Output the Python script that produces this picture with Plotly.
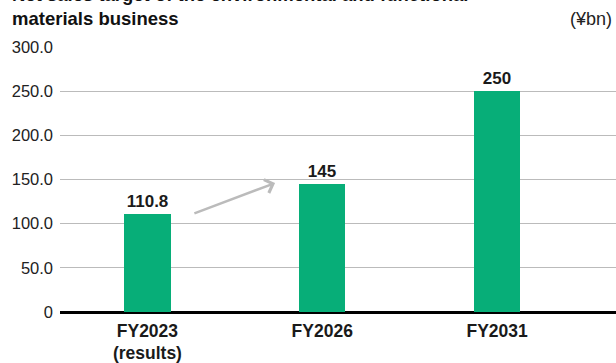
import plotly.graph_objects as go

categories = ["FY2023<br>(results)", "FY2026", "FY2031"]
values = [110.8, 145, 250]
value_labels = ["110.8", "145", "250"]
y_ticks = [0, 50, 100, 150, 200, 250, 300]
y_tick_labels = ["0", "50.0", "100.0", "150.0", "200.0", "250.0", "300.0"]

FONT = "Liberation Sans, Arial, sans-serif"
GREEN = "#07AE78"

fig = go.Figure()
fig.add_trace(go.Bar(
    x=categories, y=values, width=0.265,
    marker=dict(color=GREEN, line=dict(width=0)),
    text=value_labels, textposition="outside",
    textfont=dict(family=FONT, size=17, color="#1a1a1a", weight="bold"),
    cliponaxis=False,
))

fig.add_annotation(
    x=0.73, y=146, ax=0.26, ay=111,
    xref="x", yref="y", axref="x", ayref="y",
    text="", showarrow=True, arrowhead=4, arrowsize=1.1,
    arrowwidth=2.5, arrowcolor="#BBBBBB",
)

fig.add_annotation(
    text="<b>Net sales target of the environmental and functional<br>materials business</b>",
    xref="paper", yref="paper", x=-60/556, y=1, xanchor="left", yanchor="bottom",
    xshift=10, yshift=16, showarrow=False, align="left",
    font=dict(family=FONT, size=18.5, color="#111111"),
)
fig.add_annotation(
    text="(¥bn)", xref="paper", yref="paper", x=1, y=1,
    xanchor="right", yanchor="bottom", xshift=-2, yshift=16, showarrow=False,
    font=dict(family=FONT, size=18, color="#222222"),
)

fig.update_layout(
    width=616, height=363,
    margin=dict(l=60, r=0, t=47, b=49),
    plot_bgcolor="white", paper_bgcolor="white",
    showlegend=False,
    font=dict(family=FONT, size=16, color="#222222"),
    xaxis=dict(
        type="category", range=[-0.5, 2.68],
        showgrid=False, showline=False, zeroline=False,
        ticks="", ticklabelstandoff=6,
        tickfont=dict(family=FONT, size=17.5, color="#1a1a1a", weight="bold"),
        fixedrange=True,
    ),
    yaxis=dict(
        range=[0, 300], tickvals=y_ticks, ticktext=y_tick_labels,
        showgrid=True, gridcolor="#BBBBBB", gridwidth=1,
        zeroline=True, zerolinecolor="#000000", zerolinewidth=3,
        showline=False, ticks="", ticklabelstandoff=6,
        tickfont=dict(family=FONT, size=16.5, color="#222222"),
    ),
    bargap=0,
)

fig.write_html("out.html")
